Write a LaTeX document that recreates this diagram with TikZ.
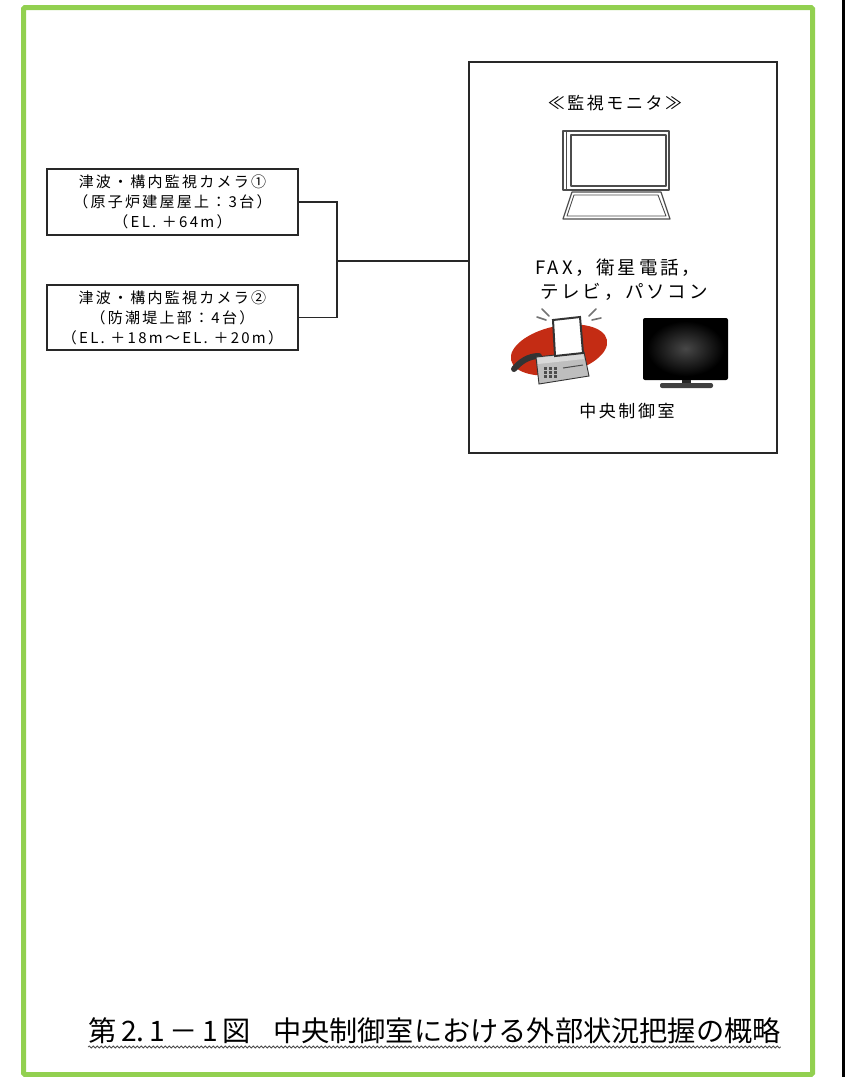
\documentclass[tikz,border=0pt]{standalone}
\usepackage{fontspec}
\setmainfont{Noto Sans CJK JP}
\newfontfamily\spacedfont[LetterSpace=15]{Noto Sans CJK JP}
\usetikzlibrary{decorations.pathmorphing}
\definecolor{framegreen}{RGB}{146,208,80}
\definecolor{ink}{RGB}{40,40,40}
\definecolor{faxred}{RGB}{196,44,20}
\definecolor{faxgray}{RGB}{190,190,190}
\begin{document}
\begin{tikzpicture}[x=1pt,y=-1pt,
  wire/.style={draw=ink, line width=1.4pt},
  camerabox/.style={draw=ink, line width=1.4pt, minimum width=251pt,
    minimum height=66pt, inner sep=0pt, align=center,
    font=\spacedfont\fontsize{15}{20}\selectfont},
  roombox/.style={draw=ink, line width=1.4pt, minimum width=308pt,
    minimum height=391pt, inner sep=0pt},
  roomtext/.style={inner sep=0pt, font=\spacedfont\fontsize{17}{20}\selectfont},
  devicetext/.style={inner sep=0pt, font=\spacedfont\fontsize{18.5}{24}\selectfont},
  sketch/.style={draw=black!70, line width=1.2pt, line join=round}]

\useasboundingbox (0,0) rectangle (849,1077);
\fill[white] (0,0) rectangle (849,1077);

% page frame and the edge rule on the right
\draw[framegreen, line width=5pt, rounded corners=1.5pt] (23.5,7.5) rectangle (812.5,1074.5);
\draw[black, line width=3pt] (843.5,0) -- (843.5,1077);

% camera boxes
\node[camerabox] (cam1) at (172.5,202)
  {津波・構内監視カメラ①\\（原子炉建屋屋上：3台）\\（EL. ＋64m）};
\node[camerabox, minimum height=65pt] (cam2) at (172.5,317.5)
  {津波・構内監視カメラ②\\（防潮堤上部：4台）\\（EL. ＋18m～EL. ＋20m）};

% central control room
\node[roombox] (room) at (623,257.5) {};

% connectors
\coordinate (bus) at (337,261);
\draw[wire] (cam1.east) -| (bus);
\draw[wire] (cam2.east) -| (bus);
\draw[wire] (bus) -- (bus -| room.west);

% texts in the control room
\node[roomtext] (montitle) at (615,103) {≪監視モニタ≫};
\node[devicetext] (devices1) at (618,268) {FAX，衛星電話，};
\node[devicetext] (devices2) at (624,292) {テレビ，パソコン};
\node[roomtext] (roomname) at (627,411) {中央制御室};

% monitor sketch
\draw[sketch] (563,131) rectangle (669,190);
\draw[sketch] (566.5,131) -- (566.5,190);
\draw[sketch] (571,135) rectangle (666,186);
\draw[sketch] (572,192) -- (661,192) -- (670,219) -- (563,219) -- cycle;
\draw[sketch, line width=0.9pt] (574,195) -- (658,195) -- (666,216) -- (567,216) -- cycle;

% fax machine
\fill[faxred, rotate around={12:(559,350)}] (559,350) ellipse [x radius=49pt, y radius=24pt];
\draw[black!55, line width=1.6pt, line cap=round]
  (542,309) -- (549,316) (537,317) -- (546,320)
  (596,309) -- (589,316) (601,318) -- (592,320);
\draw[black!80, line width=6pt, line cap=round]
  (514,369) .. controls (520,362) and (528,356) .. (539,356);
\filldraw[fill=faxgray, draw=black!80, line width=0.9pt]
  (536,357) -- (584,352) -- (589,376) -- (539,384) -- cycle;
\fill[black!15] (537,358) -- (583,353) -- (584,359) -- (538,364) -- cycle;
\foreach \i in {0,1,2} \foreach \j in {0,1,2}
  \fill[black!70] (544+5*\i,367+4*\j) rectangle ++(3,2.5);
\draw[black!70, line width=1pt] (563,368) -- (583,365);
\filldraw[fill=white, draw=black!80, line width=2pt]
  (553,320) -- (580,317) -- (583,353) -- (555,356) -- cycle;

% television
\fill[black, rounded corners=2pt] (643,318) rectangle (728,380);
\shade[inner color=black!72, outer color=black] (647,321) rectangle (724,376);
\fill[black!85] (682,380) rectangle (691,384);
\fill[black!75, rounded corners=2pt] (660,383) rectangle (713,388);

% caption
\node[anchor=base west, inner sep=0pt, font=\fontsize{28.2}{32}\selectfont] (caption)
  at (88,1041) {第\,2.\,1\,－\,1\,図\hspace{22pt}中央制御室における外部状況把握の概略};
\draw[black!70, line width=0.8pt, decorate,
  decoration={snake, segment length=4pt, amplitude=1pt}]
  (caption.south west |- 0,1047) -- (caption.south east |- 0,1047);
\end{tikzpicture}
\end{document}
